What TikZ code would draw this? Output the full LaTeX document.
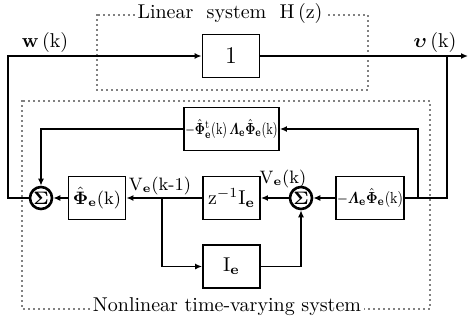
\documentclass[tikz,border=0pt]{standalone}
\usepackage{amsmath,bm,graphicx}
\usetikzlibrary{arrows.meta}
\begin{document}
\begin{tikzpicture}[x=0.5pt,y=-0.5pt,
  blk/.style={draw,line width=0.9pt,minimum width=28.5pt,minimum height=21.5pt,inner sep=0.5pt},
  sumnode/.style={draw,circle,line width=1.3pt,minimum size=11pt,inner sep=0pt,font=\small},
  wire/.style={line width=0.9pt},
  arr/.style={wire,-{Latex[length=3.5pt,width=3pt]}},
  frame/.style={line width=0.9pt,line cap=round,dash pattern=on 0pt off 2.5pt},
  ttl/.style={fill=white,inner sep=1.5pt,font=\normalsize}
]
\useasboundingbox (0,0) rectangle (469,320);

% dotted subsystem frames
\draw[frame] (97,15) rectangle (368,90);
\draw[frame] (22,101) rectangle (430,309);
\node[ttl] (linlbl) at (230,14) {Linear\ \ system\ \ H\,(z)};
\node[ttl,anchor=base] (nllbl) at (227,311) {Nonlinear\ time-varying\ system};

% blocks
\node[blk,font=\large] (one) at (231,56) {1};
\node[blk,minimum width=47.5pt,font=\footnotesize] (quad) at (231.5,129)
  {\scalebox{0.72}[1]{$-\hat{\bm{\Phi}}_{\mathbf{e}}^{\mathrm{t}}(\mathrm{k})\,\bm{\varLambda}_{\mathbf{e}}\hat{\bm{\Phi}}_{\mathbf{e}}(\mathrm{k})$}};
\node[blk,font=\small] (phi) at (97,198) {$\hat{\bm{\Phi}}_{\mathbf{e}}(\mathrm{k})$};
\node[blk] (delay) at (231.5,198) {$\mathrm{z}^{-1}\mathrm{I}_{\mathbf{e}}$};
\node[blk] (ident) at (231.5,266.5) {$\mathrm{I}_{\mathbf{e}}$};
\node[blk,minimum width=33pt,font=\footnotesize] (gain) at (370,198)
  {\scalebox{0.82}[1]{$-\bm{\varLambda}_{\mathbf{e}}\hat{\bm{\Phi}}_{\mathbf{e}}(\mathrm{k})$}};

% summing junctions
\node[sumnode] (sumL) at (41,198) {$\bm{\Sigma}$};
\node[sumnode] (sumR) at (301,198) {$\bm{\Sigma}$};

% corner and branch points
\coordinate (cL) at (8,56);
\coordinate (cOut) at (468,56);
\coordinate (cR) at (447,56);
\coordinate (cB) at (418,198);
\coordinate (cJ) at (162,198);

% signal labels
\node (wlbl) at (45,43) {$\mathbf{w}\,(\mathrm{k})$};
\node (vlbl) at (435,43) {$\bm{\upsilon}\,(\mathrm{k})$};
\node[font=\small] (vk1lbl) at (160,186) {$\mathrm{V}_{\mathbf{e}}(\mathrm{k\text{-}1})$};
\node[font=\small] (vklbl) at (283,179) {$\mathrm{V}_{\mathbf{e}}(\mathrm{k})$};

% connectors
\draw[arr] (sumL.west) -| (cL) -- (one.west);
\draw[arr] (one.east) -- (cOut);
\draw[wire] (gain.east) -| (cR);
\draw[arr] (cB) |- (quad.east);
\draw[arr] (quad.west) -| (sumL.north);
\draw[arr] (gain.west) -- (sumR.east);
\draw[arr] (sumR.west) -- (delay.east);
\draw[arr] (delay.west) -- (phi.east);
\draw[arr] (phi.west) -- (sumL.east);
\draw[arr] (cJ) |- (ident.west);
\draw[arr] (ident.east) -| (sumR.south);
\end{tikzpicture}
\end{document}
